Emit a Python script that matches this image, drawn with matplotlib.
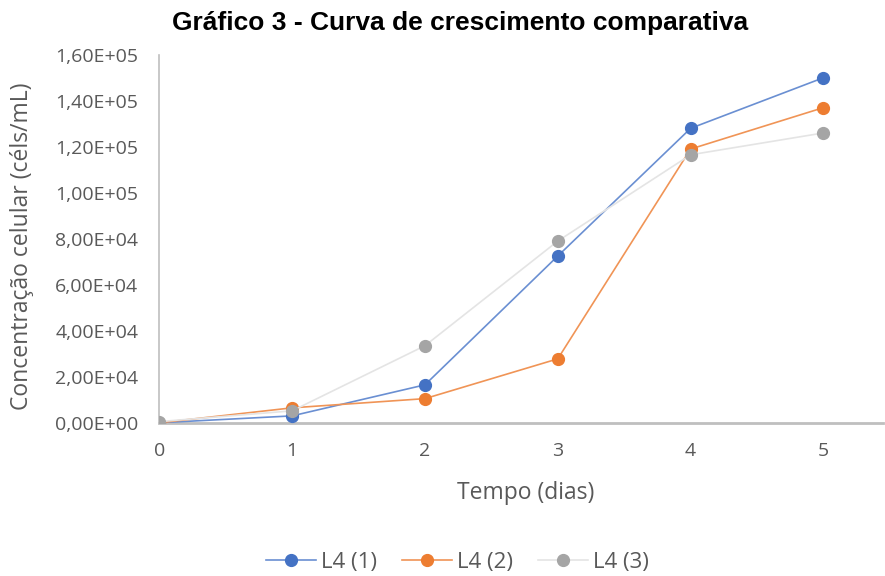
import matplotlib
matplotlib.use('Agg')
import matplotlib.pyplot as plt
from matplotlib.ticker import FuncFormatter

# growth curves, cells/mL per day
dias = [0, 1, 2, 3, 4, 5]
l4_1 = [0, 3000, 16500, 72500, 128000, 150000]
l4_2 = [0, 6500, 10500, 27800, 119000, 137000]
l4_3 = [500, 5200, 33500, 79000, 116500, 126000]
nomes = ['L4 (1)', 'L4 (2)', 'L4 (3)']
yticks = [0, 20000, 40000, 60000, 80000, 100000, 120000, 140000, 160000]

cor_marc = ['#4472C4', '#ED7D31', '#A5A5A5']
cor_linha = ['#6A8FD2', '#F09456', '#E4E4E4']

fig = plt.figure(figsize=(8.85, 5.76), dpi=100)
ax = fig.add_axes([0.18, 0.266, 0.818, 0.639])

for serie, nome, cm, cl in zip([l4_1, l4_2, l4_3], nomes, cor_marc, cor_linha):
    ax.plot(dias, serie, color=cl, lw=1.2, marker='o', markersize=8.5,
            markerfacecolor=cm, markeredgecolor=cm, label=nome, zorder=3)

ax.set_xlim(0, 5.45)
ax.set_ylim(0, 160000)
ax.set_xticks(dias)
ax.set_yticks(yticks)
ax.yaxis.set_major_formatter(FuncFormatter(lambda v, p: f"{v:.2E}".replace('.', ',')))

for s in ['top', 'right']:
    ax.spines[s].set_visible(False)
ax.spines['left'].set_color('#BFBFBF')
ax.spines['left'].set_linewidth(1.2)
ax.spines['bottom'].set_color('#BFBFBF')
ax.spines['bottom'].set_linewidth(2)
ax.tick_params(length=0, labelsize=14, colors='#595959')
ax.tick_params(axis='y', pad=15)
ax.tick_params(axis='x', pad=14)
for lab in ax.get_xticklabels() + ax.get_yticklabels():
    lab.set_family('Open Sans')

ax.set_xlabel('Tempo (dias)', fontsize=16.5, color='#595959', family='Open Sans', va='center')
ax.set_ylabel('Concentração celular (céls/mL)', fontsize=16.5, color='#595959', family='Open Sans', va='center')
ax.xaxis.set_label_coords(0.506, -0.19)
ax.yaxis.set_label_coords(-0.189, 0.48)

fig.suptitle('Gráfico 3 - Curva de crescimento comparativa', fontsize=19,
             fontweight='bold', family='Liberation Sans', x=0.52, y=0.96, va='center')

leg = fig.legend(loc='center', bbox_to_anchor=(0.517, 0.023), ncol=3, frameon=False,
                 prop={'family': 'Open Sans', 'size': 16}, handlelength=2.25,
                 columnspacing=1.1, handletextpad=0.25)
for t in leg.get_texts():
    t.set_color('#595959')

fig.savefig('out.png', dpi=100)
